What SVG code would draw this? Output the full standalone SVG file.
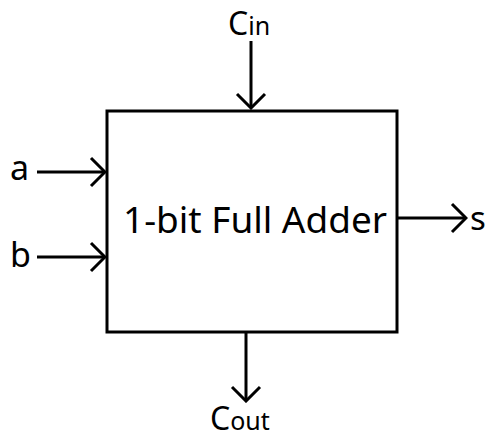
<svg xmlns="http://www.w3.org/2000/svg" width="493" height="442" viewBox="0 0 493 442">
<style>
.ln{stroke:#000;stroke-width:3;fill:none}
.t{font-family:"Noto Sans","Open Sans",sans-serif;fill:#000}
</style>
<defs>
<marker id="ah" viewBox="-16 -16 18 32" markerWidth="18" markerHeight="32" refX="0" refY="0" orient="auto" markerUnits="userSpaceOnUse">
<path d="M-14,-14 L0,0 L-14,14" stroke="#000" stroke-width="3" fill="none"/>
</marker>
</defs>
<rect width="493" height="442" fill="#fff"/>
<g id="adder">
<rect class="ln" x="107" y="111" width="290" height="221"/>
<text class="t" x="255" y="233" font-size="36" text-anchor="middle" textLength="264" lengthAdjust="spacingAndGlyphs">1-bit Full Adder</text>
</g>
<g id="cin"><text class="t" x="228" y="35" font-size="32">C<tspan font-size="25">in</tspan></text></g>
<g id="a"><text class="t" x="10" y="180" font-size="34">a</text></g>
<g id="b"><text class="t" x="10" y="267" font-size="34">b</text></g>
<g id="s"><text class="t" x="470" y="230" font-size="33">s</text></g>
<g id="cout"><text class="t" x="210" y="430" font-size="32">C<tspan font-size="25">out</tspan></text></g>
<g id="connectors">
<line class="ln" x1="251" y1="41" x2="251" y2="108" marker-end="url(#ah)"/>
<line class="ln" x1="37" y1="172" x2="105" y2="172" marker-end="url(#ah)"/>
<line class="ln" x1="37" y1="257" x2="105" y2="257" marker-end="url(#ah)"/>
<line class="ln" x1="398" y1="218" x2="466" y2="218" marker-end="url(#ah)"/>
<line class="ln" x1="246" y1="333" x2="246" y2="401" marker-end="url(#ah)"/>
</g>
</svg>
